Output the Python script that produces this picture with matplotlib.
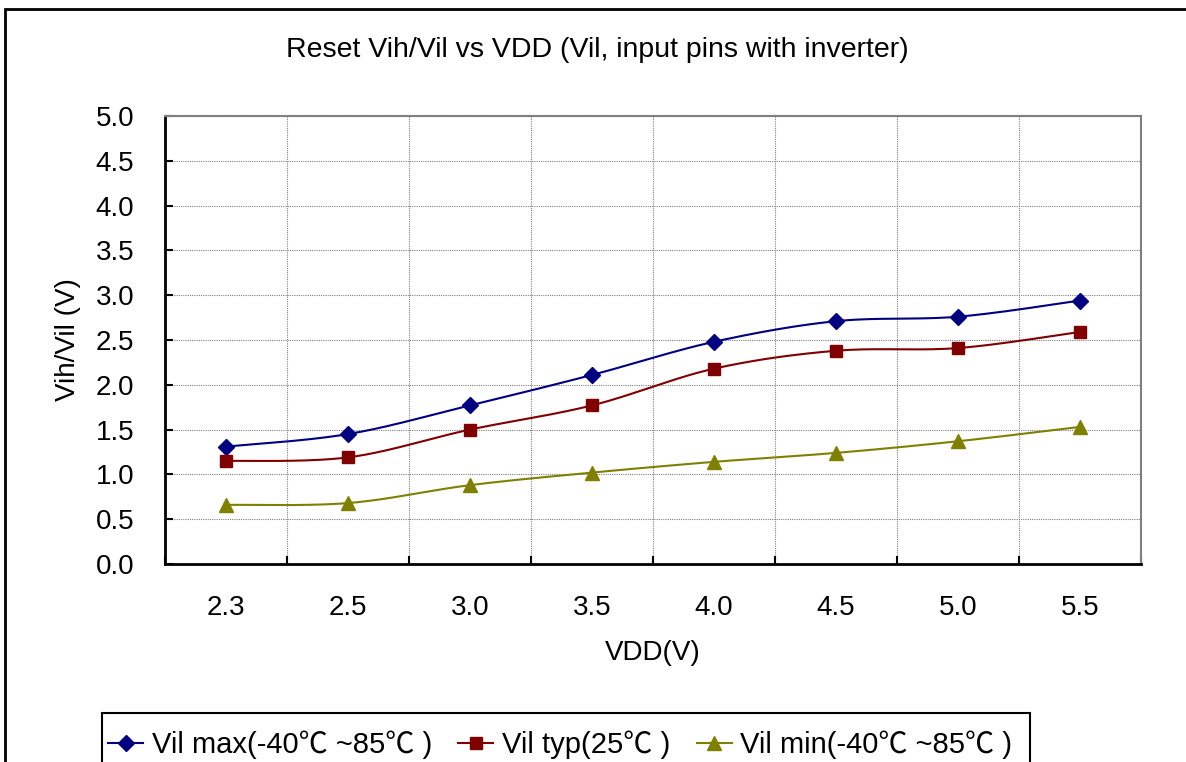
import numpy as np
import matplotlib.pyplot as plt
from matplotlib.patches import Rectangle

plt.rcParams['font.family'] = ['Liberation Sans', 'Noto Sans CJK SC', 'DejaVu Sans']

vdd = ['2.3', '2.5', '3.0', '3.5', '4.0', '4.5', '5.0', '5.5']
vil_max = [1.31, 1.45, 1.77, 2.11, 2.48, 2.71, 2.76, 2.94]
vil_typ = [1.15, 1.19, 1.50, 1.77, 2.18, 2.38, 2.41, 2.59]
vil_min = [0.66, 0.68, 0.88, 1.02, 1.14, 1.24, 1.37, 1.53]

labels = ['Vil max(-40\u2103 ~85\u2103 )', 'Vil typ(25\u2103 )', 'Vil min(-40\u2103 ~85\u2103 )']
colors = ['#000080', '#800000', '#808000']
markers = ['D', 's', '^']
msizes = [8, 9, 10]


def smooth(x, y, n=30):
    """Excel-style smoothed line: Bezier segments with Catmull-Rom handles."""
    x = np.asarray(x, float)
    y = np.asarray(y, float)
    px = np.concatenate([[x[0]], x, [x[-1]]])
    py = np.concatenate([[y[0]], y, [y[-1]]])
    t = np.linspace(0, 1, n)[:, None]
    xs, ys = [], []
    for i in range(len(x) - 1):
        p0 = np.array([px[i + 1], py[i + 1]])
        p3 = np.array([px[i + 2], py[i + 2]])
        p1 = p0 + (p3 - np.array([px[i], py[i]])) / 6
        p2 = p3 - (np.array([px[i + 3], py[i + 3]]) - p0) / 6
        b = ((1 - t) ** 3) * p0 + 3 * ((1 - t) ** 2) * t * p1 + 3 * (1 - t) * t ** 2 * p2 + t ** 3 * p3
        xs.append(b[:, 0])
        ys.append(b[:, 1])
    return np.concatenate(xs), np.concatenate(ys)


fig = plt.figure(figsize=(11.86, 7.62), dpi=100)
# outer chart border, running off the right and bottom edges
fig.patches.append(Rectangle((5 / 1186, -0.1), 1.2, (762 - 9) / 762 + 0.1,
                             transform=fig.transFigure, fill=False,
                             edgecolor='black', linewidth=2))
# legend box, also cut off at the bottom
fig.patches.append(Rectangle((102 / 1186, -0.1), (1030 - 102) / 1186, (762 - 713) / 762 + 0.1,
                             transform=fig.transFigure, fill=False,
                             edgecolor='black', linewidth=1.5))

ax = fig.add_axes([165 / 1186, 198 / 762, 976 / 1186, 448 / 762])
xs = np.arange(len(vdd))
for vals, lab, c, m, ms in zip([vil_max, vil_typ, vil_min], labels, colors, markers, msizes):
    sx, sy = smooth(xs, vals)
    ax.plot(sx, sy, color=c, linewidth=1.5)
    ax.plot(xs, vals, linestyle='none', marker=m, markersize=ms, color=c)
    ax.plot([], [], color=c, linewidth=1.5, marker=m, markersize=ms, label=lab)

ax.set_xlim(-0.5, len(vdd) - 0.5)
ax.set_ylim(0, 5)
ax.set_yticks(np.arange(0, 5.01, 0.5))
ax.set_yticklabels(['%.1f' % v for v in np.arange(0, 5.01, 0.5)])
ax.set_xticks(np.arange(-0.5, len(vdd), 1.0))
ax.set_xticklabels([])
ax.set_xticks(xs, minor=True)
ax.set_xticklabels(vdd, minor=True)
ax.tick_params(axis='both', which='major', direction='in', length=6, width=1.5, labelsize=20)
ax.tick_params(axis='y', pad=22)
ax.tick_params(axis='x', which='minor', length=0, pad=22, labelsize=20)
ax.grid(True, which='major', color='#808080', linestyle=(0, (1, 1)), linewidth=0.8)

for side in ['left', 'bottom']:
    ax.spines[side].set_linewidth(2)
    ax.spines[side].set_color('black')
for side in ['top', 'right']:
    ax.spines[side].set_linewidth(1.5)
    ax.spines[side].set_color('#808080')

ax.set_xlabel('VDD(V)', fontsize=20, labelpad=14)
ax.set_ylabel('Vih/Vil (V)', fontsize=20, labelpad=11)
fig.text(597 / 1186, 1 - 50 / 762, 'Reset Vih/Vil vs VDD (Vil, input pins with inverter)',
         ha='center', va='center', fontsize=20.5)

fig.legend(loc='center left', bbox_to_anchor=(108 / 1186, 1 - 745 / 762), ncol=3,
           fontsize=21, frameon=False, handlelength=1.2,
           handletextpad=0.3, columnspacing=0.9, borderaxespad=0, borderpad=0)

fig.savefig('out.png', dpi=100)
